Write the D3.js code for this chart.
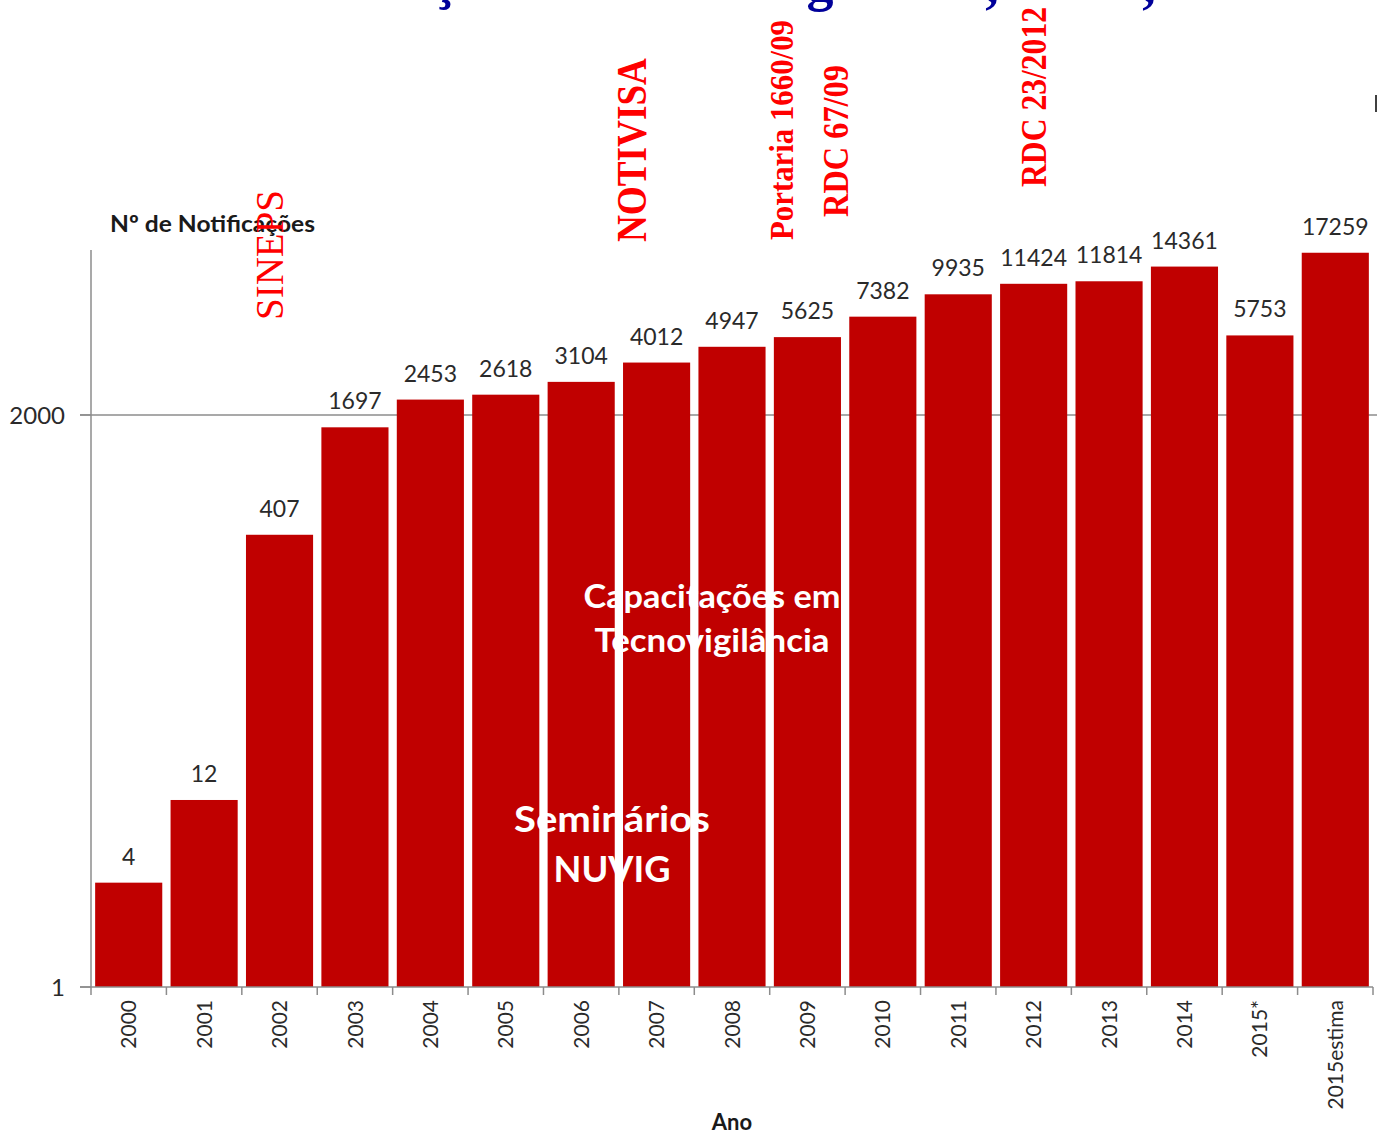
<!DOCTYPE html>
<html>
<head>
<meta charset="utf-8">
<script src="https://cdn.jsdelivr.net/npm/d3@7/dist/d3.min.js"></script>
<style>
  html, body { margin: 0; padding: 0; background: #fff; }
  svg { display: block; }
</style>
</head>
<body>
<svg id="chart" width="1377" height="1134"></svg>
<script>
// Notificações de tecnovigilância por ano (escala logarítmica)
const years = ["2000","2001","2002","2003","2004","2005","2006","2007","2008",
               "2009","2010","2011","2012","2013","2014","2015*","2015estima"];
const notifications = [4, 12, 407, 1697, 2453, 2618, 3104, 4012, 4947,
                       5625, 7382, 9935, 11424, 11814, 14361, 5753, 17259];
const yTickValues = [1, 2000];
const yTickLabels = ["1", "2000"];

// Marcos regulatórios (texto vertical em vermelho), ancorados ao ano
const milestones = [
  { text: "SINEPS",            year: "2002", dx: 3,   bold: false, size: 40, len: 130 },
  { text: "NOTIVISA",          year: "2007", dx: -11, bold: true,  size: 42, len: 184 },
  { text: "Portaria 1660/09",  year: "2009", dx: -14, bold: true,  size: 33, len: 220 },
  { text: "RDC 67/09",         year: "2010", dx: -35, bold: true,  size: 35, len: 152 },
  { text: "RDC 23/2012",       year: "2012", dx: 12,  bold: true,  size: 35, len: 180 }
];
const milestoneBase = [320, 242, 240, 217, 187];

// Ações de capacitação (texto branco sobre as barras)
const trainingLines = [
  ["Capacitações em", "Tecnovigilância"],
  ["Seminários", "NUVIG"]
];
const trainingWidths = [[257, 235], [196, 117]];

const svg = d3.select("#chart");
const sans = "Lato, 'Open Sans', sans-serif";
const serif = "'Liberation Serif', 'DejaVu Serif', serif";

const x = d3.scaleBand()
  .domain(years)
  .range([91, 1373])
  .paddingInner(0.11)
  .paddingOuter(0.055);

const y = d3.scaleLog()
  .domain([1, 17900])
  .range([987, 250]);

const barColor = "#c00000";
const axisColor = "#8c8c8c";

// Linha de grade em 2000
svg.append("line")
  .attr("x1", 80).attr("x2", 1377)
  .attr("y1", y(2000)).attr("y2", y(2000))
  .attr("stroke", axisColor).attr("stroke-width", 1.5);

// Barras
svg.append("g").selectAll("rect")
  .data(notifications)
  .join("rect")
  .attr("x", (d, i) => x(years[i]))
  .attr("width", x.bandwidth())
  .attr("y", d => y(d))
  .attr("height", d => y(1) - y(d))
  .attr("fill", barColor);

// Eixo Y
svg.append("line")
  .attr("x1", 91).attr("x2", 91)
  .attr("y1", 250).attr("y2", y(1))
  .attr("stroke", axisColor).attr("stroke-width", 1.5);
svg.append("g").selectAll("line")
  .data(yTickValues)
  .join("line")
  .attr("x1", 80).attr("x2", 91)
  .attr("y1", d => y(d)).attr("y2", d => y(d))
  .attr("stroke", axisColor).attr("stroke-width", 1.5);
svg.append("g").selectAll("text")
  .data(yTickValues)
  .join("text")
  .attr("x", 65)
  .attr("y", d => y(d))
  .attr("dy", "0.36em")
  .attr("text-anchor", "end")
  .attr("font-family", sans)
  .attr("font-size", 24)
  .attr("fill", "#2a2a2a")
  .text((d, i) => yTickLabels[i]);

// Eixo X
const xAxis = d3.axisBottom(x).tickSize(0).tickFormat("");
svg.append("g")
  .attr("transform", `translate(0,${y(1)})`)
  .call(xAxis)
  .call(g => g.select(".domain").attr("stroke", axisColor).attr("stroke-width", 1.5)
                .attr("d", `M80,0H1373`));
const step = x.step();
const boundaries = d3.range(years.length + 1).map(i => 91 + i * step);
svg.append("g").selectAll("line")
  .data(boundaries)
  .join("line")
  .attr("x1", d => d).attr("x2", d => d)
  .attr("y1", y(1)).attr("y2", y(1) + 8)
  .attr("stroke", axisColor).attr("stroke-width", 1.5);
svg.append("g").selectAll("text")
  .data(years)
  .join("text")
  .attr("transform", d => `translate(${x(d) + x.bandwidth() / 2},1000) rotate(-90)`)
  .attr("dy", "0.36em")
  .attr("text-anchor", "end")
  .attr("font-family", sans)
  .attr("font-size", 21)
  .attr("fill", "#2a2a2a")
  .text(d => d);

// Rótulos de valor
svg.append("g").selectAll("text")
  .data(notifications)
  .join("text")
  .attr("x", (d, i) => x(years[i]) + x.bandwidth() / 2)
  .attr("y", d => y(d) - 18)
  .attr("text-anchor", "middle")
  .attr("font-family", sans)
  .attr("font-size", 23)
  .attr("fill", "#2a2a2a")
  .text(d => d);

// Títulos dos eixos
svg.append("text")
  .attr("x", 110).attr("y", 232)
  .attr("font-family", sans).attr("font-weight", "bold")
  .attr("font-size", 23).attr("fill", "#1a1a1a")
  .attr("textLength", 205).attr("lengthAdjust", "spacingAndGlyphs")
  .text("Nº de Notificações");
svg.append("text")
  .attr("x", (91 + 1373) / 2).attr("y", 1130)
  .attr("text-anchor", "middle")
  .attr("font-family", sans).attr("font-weight", "bold")
  .attr("font-size", 22).attr("fill", "#1a1a1a")
  .text("Ano");

// Textos das capacitações
const training = svg.append("g")
  .attr("font-family", sans).attr("font-weight", "bold")
  .attr("fill", "#ffffff").attr("text-anchor", "middle");
training.selectAll("text.cap")
  .data(trainingLines[0])
  .join("text").attr("class", "cap")
  .attr("x", 712)
  .attr("y", (d, i) => 608 + i * 44)
  .attr("font-size", 33)
  .attr("textLength", (d, i) => trainingWidths[0][i])
  .attr("lengthAdjust", "spacingAndGlyphs")
  .text(d => d);
training.selectAll("text.sem")
  .data(trainingLines[1])
  .join("text").attr("class", "sem")
  .attr("x", 612)
  .attr("y", (d, i) => 832 + i * 50)
  .attr("font-size", 37)
  .attr("textLength", (d, i) => trainingWidths[1][i])
  .attr("lengthAdjust", "spacingAndGlyphs")
  .text(d => d);

// Marcos regulatórios
svg.append("g").selectAll("text")
  .data(milestones)
  .join("text")
  .attr("transform", (d, i) =>
    `translate(${x(d.year) + x.bandwidth() / 2 + d.dx},${milestoneBase[i]}) rotate(-90)`)
  .attr("font-family", serif)
  .attr("font-weight", d => d.bold ? "bold" : "normal")
  .attr("font-size", d => d.size)
  .attr("textLength", d => d.len)
  .attr("lengthAdjust", "spacingAndGlyphs")
  .attr("fill", "#ff0000")
  .text(d => d.text);

// Fragmentos do título azul na margem superior
const titleGlyphs = [
  { ch: "ç", x: 444, y: -2 },
  { ch: "g", x: 820, y: 0 },
  { ch: ",", x: 992, y: 2 },
  { ch: ",", x: 1149, y: 2 }
];
svg.append("g").selectAll("text")
  .data(titleGlyphs)
  .join("text")
  .attr("x", d => d.x).attr("y", d => d.y)
  .attr("text-anchor", "middle")
  .attr("font-family", serif).attr("font-weight", "bold")
  .attr("font-size", 54).attr("fill", "#00009a")
  .text(d => d.ch);

// Pequeno traço na margem direita
svg.append("line")
  .attr("x1", 1376).attr("x2", 1376)
  .attr("y1", 95).attr("y2", 112)
  .attr("stroke", "#000").attr("stroke-width", 1.5);
</script>
</body>
</html>
